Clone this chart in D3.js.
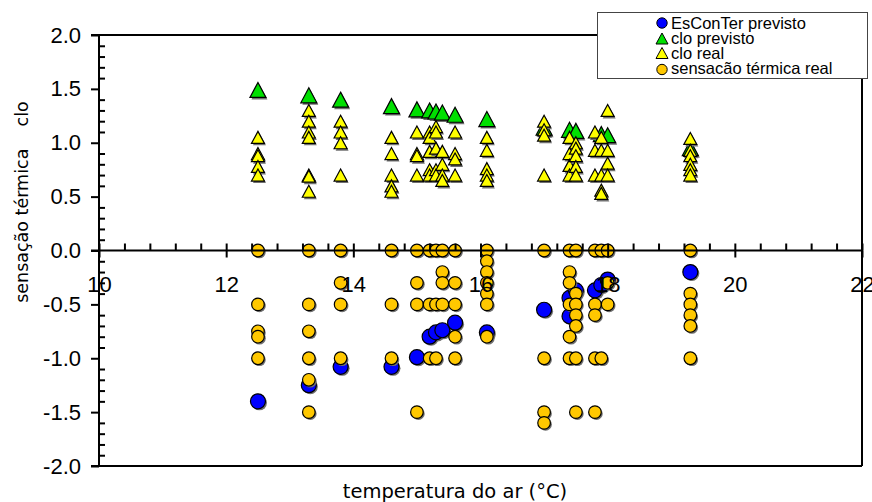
<!DOCTYPE html>
<html><head><meta charset="utf-8">
<script src="https://cdn.jsdelivr.net/npm/d3@7"></script>
<style>
html,body{margin:0;padding:0;background:#fff;}
svg{display:block;}
</style></head>
<body>
<svg id="chart" width="872" height="502"></svg>
<script>
// ---------- data ----------
const xTicks = [10, 12, 14, 16, 18, 20, 22];
const yTicks = [-2.0, -1.5, -1.0, -0.5, 0.0, 0.5, 1.0, 1.5, 2.0];

// column temperatures (°C)
const temps = [12.5, 13.3, 13.8, 14.6, 15.0, 15.2, 15.3, 15.4, 15.6, 16.1, 17.0, 17.4, 17.5, 17.8, 17.9, 18.0, 19.3];

// clo real (yellow triangles), one list per temperature column
const cloReal = [
  [1.05, 0.90, 0.88, 0.78, 0.70],
  [1.30, 1.20, 1.10, 1.05, 0.70, 0.69, 0.55],
  [1.20, 1.10, 1.00, 0.70],
  [1.05, 0.90, 0.70, 0.60, 0.55],
  [1.10, 0.90, 0.88, 0.70],
  [1.10, 1.05, 0.92, 0.75, 0.70],
  [1.15, 1.10, 0.95, 0.75, 0.70],
  [0.92, 0.80, 0.70, 0.65],
  [1.10, 0.90, 0.85, 0.70],
  [1.05, 0.93, 0.76, 0.70, 0.65],
  [1.20, 1.12, 1.07, 0.70],
  [1.05, 0.90, 0.79, 0.70],
  [1.00, 0.95, 0.88, 0.78, 0.70],
  [1.10, 0.93, 0.70],
  [1.05, 0.93, 0.70, 0.56, 0.53],
  [1.30, 0.93, 0.81, 0.70],
  [1.04, 0.93, 0.88, 0.80, 0.75, 0.70]
];

// sensação térmica real (orange circles), one list per temperature column
const sensReal = [
  [0, -0.5, -0.75, -0.8, -1.0],
  [0, -0.5, -0.75, -1.0, -1.2, -1.5],
  [0, -0.3, -0.5, -1.0],
  [0, -0.5, -1.0],
  [0, -0.3, -0.5, -1.5],
  [0, -0.5, -1.0],
  [0, -0.5, -1.0],
  [0, -0.2, -0.3, -0.5],
  [0, -0.3, -0.5, -0.8, -1.0],
  [0, -0.1, -0.2, -0.3, -0.4, -0.5, -0.8],
  [0, -1.0, -1.5, -1.6],
  [0, -0.2, -0.3, -0.5, -0.8, -1.0],
  [0, -0.4, -0.5, -0.6, -0.7, -1.0, -1.5],
  [0, -0.5, -0.6, -1.0, -1.5],
  [0, -1.0],
  [0, -0.3, -0.5],
  [0, -0.4, -0.5, -0.6, -0.7, -1.0]
];

// clo previsto (green triangles)
const cloPrevTemp  = [12.5, 13.3, 13.8, 14.6, 15.0, 15.2, 15.3, 15.4, 15.6, 16.1, 17.0, 17.4, 17.5, 17.9, 18.0, 19.3];
const cloPrevValue = [1.49, 1.44, 1.40, 1.34, 1.31, 1.30, 1.29, 1.28, 1.26, 1.22, 1.14, 1.12, 1.11, 1.08, 1.07, 0.95];

// EsConTer previsto (blue circles)
const escTemp  = [12.5, 13.3, 13.8, 14.6, 15.0, 15.2, 15.3, 15.4, 15.6, 16.1, 17.0, 17.4, 17.4, 17.5, 17.8, 17.9, 18.0, 19.3];
const escValue = [-1.40, -1.25, -1.08, -1.08, -0.99, -0.80, -0.76, -0.74, -0.67, -0.76, -0.55, -0.61, -0.44, -0.37, -0.37, -0.32, -0.27, -0.20];

const legendLabels = ["EsConTer previsto", "clo previsto", "clo real", "sensacão térmica real"];

// ---------- drawing ----------
const svg = d3.select("#chart");
const x = d3.scaleLinear().domain([10, 22]).range([99, 862]);
const y = d3.scaleLinear().domain([-2, 2]).range([466, 35]);

const C_BLUE = "#0000ff", C_GREEN = "#00e000", C_YTRI = "#ffff00", C_CIRC = "#ffc800";
const SHADOW = "#707070";

function triPath(w, h) {
  return `M0,${-h/2}L${w/2},${h/2}L${-w/2},${h/2}Z`;
}

const marks = svg.append("g");

function drawCircles(data, r, fill) {
  const g = marks.append("g");
  g.selectAll("circle.sh").data(data).join("circle")
    .attr("cx", d => x(d[0]) + 1.5).attr("cy", d => y(d[1]) + 1.5).attr("r", r)
    .attr("fill", SHADOW);
  g.selectAll("circle.m").data(data).join("circle")
    .attr("cx", d => x(d[0])).attr("cy", d => y(d[1])).attr("r", r)
    .attr("fill", fill).attr("stroke", "#000").attr("stroke-width", 1.2);
}
function drawTris(data, w, h, fill) {
  const g = marks.append("g");
  const p = triPath(w, h);
  data.forEach(d => {
    g.append("path").attr("d", p)
      .attr("transform", `translate(${x(d[0]) + 1.5},${y(d[1]) + 2})`).attr("fill", SHADOW);
    g.append("path").attr("d", p)
      .attr("transform", `translate(${x(d[0])},${y(d[1])})`)
      .attr("fill", fill).attr("stroke", "#000").attr("stroke-width", 1.2).attr("stroke-linejoin", "miter");
  });
}

const escData = escTemp.map((t, i) => [t, escValue[i]]);
const greenData = cloPrevTemp.map((t, i) => [t, cloPrevValue[i]]);
const yTriData = temps.flatMap((t, i) => cloReal[i].map(v => [t, v]));
const circData = temps.flatMap((t, i) => sensReal[i].map(v => [t, v]));

// ---------- axes & frame ----------
const axG = svg.append("g");
const left = x(10) - 8;
axG.append("line").attr("x1", left).attr("x2", x(22)).attr("y1", y(2)).attr("y2", y(2));
axG.append("line").attr("x1", x(22)).attr("x2", x(22)).attr("y1", y(2)).attr("y2", y(-2));
axG.append("line").attr("x1", left).attr("x2", x(22)).attr("y1", y(-2)).attr("y2", y(-2));
axG.append("line").attr("x1", left).attr("x2", x(22)).attr("y1", y(0)).attr("y2", y(0));
axG.append("line").attr("x1", x(10)).attr("x2", x(10)).attr("y1", y(2)).attr("y2", y(-2));
axG.selectAll("line").attr("stroke", "#000").attr("stroke-width", 2);

// y ticks
const yMajor = d3.axisLeft(y).tickValues(yTicks).tickSize(8).tickPadding(10).tickFormat(d3.format(".1f"));
const gy = svg.append("g").attr("transform", `translate(${x(10)},0)`).call(yMajor);
gy.select(".domain").remove();
gy.selectAll(".tick line").attr("stroke", "#000").attr("stroke-width", 2);
gy.selectAll(".tick text").attr("font-family", "'Liberation Sans', Arial, sans-serif").attr("font-size", 22).attr("fill", "#000")
  .text(d => d3.format(".1f")(d).replace("−", "-"));

const yMinorVals = d3.range(-20, 21).filter(i => i % 5 !== 0).map(i => i / 10);
const gym = svg.append("g").attr("transform", `translate(${x(10)},0)`)
  .call(d3.axisRight(y).tickValues(yMinorVals).tickSize(6).tickFormat(""));
gym.select(".domain").remove();
gym.selectAll(".tick line").attr("stroke", "#000").attr("stroke-width", 2);

// x ticks (crossing the zero line)
const gxb = svg.append("g").attr("transform", `translate(0,${y(0)})`)
  .call(d3.axisBottom(x).tickValues(xTicks).tickSize(7).tickFormat(""));
gxb.select(".domain").remove();
gxb.selectAll(".tick line").attr("stroke", "#000").attr("stroke-width", 2);
const xAllVals = d3.range(0, 31).map(i => 10 + i * 0.4);
const gxt = svg.append("g").attr("transform", `translate(0,${y(0)})`)
  .call(d3.axisTop(x).tickValues(xAllVals).tickSize(7).tickFormat(""));
gxt.select(".domain").remove();
gxt.selectAll(".tick line").attr("stroke", "#000").attr("stroke-width", 2);

// marks (drawn after axes so they cover the zero line)
drawCircles(escData, 7.5, C_BLUE);
drawTris(greenData, 16, 15, C_GREEN);
drawTris(yTriData, 13, 12, C_YTRI);
drawCircles(circData, 6.3, C_CIRC);

// x labels on top of marks
const gxl = svg.append("g").attr("transform", `translate(0,${y(0)})`)
  .call(d3.axisBottom(x).tickValues(xTicks).tickSize(0).tickPadding(26).tickFormat(d3.format("d")));
gxl.select(".domain").remove();
gxl.selectAll(".tick text").attr("font-family", "'Liberation Sans', Arial, sans-serif").attr("font-size", 22).attr("fill", "#000");

// axis titles
svg.append("text").attr("x", 455).attr("y", 498).attr("text-anchor", "middle")
  .attr("font-family", "'DejaVu Sans', Verdana, sans-serif").attr("font-size", 19.5).attr("fill", "#000")
  .text("temperatura do ar (°C)");
svg.append("text").attr("transform", "translate(28,202) rotate(-90)").attr("text-anchor", "middle")
  .attr("font-family", "'DejaVu Sans', Verdana, sans-serif").attr("font-size", 17.5).attr("fill", "#000")
  .attr("xml:space", "preserve").style("white-space", "pre")
  .text("sensação térmica    clo");

// legend
const lg = svg.append("g");
lg.append("rect").attr("x", 597.5).attr("y", 12.5).attr("width", 270).attr("height", 66)
  .attr("fill", "#fff").attr("stroke", "#444").attr("stroke-width", 1);
const rowsY = [23, 38.5, 53, 68];
const lmx = 662;
lg.append("circle").attr("cx", lmx).attr("cy", rowsY[0]).attr("r", 5.2).attr("fill", C_BLUE).attr("stroke", "#000").attr("stroke-width", 1);
lg.append("path").attr("d", triPath(12, 11)).attr("transform", `translate(${lmx},${rowsY[1]})`).attr("fill", C_GREEN).attr("stroke", "#000").attr("stroke-width", 1);
lg.append("path").attr("d", triPath(12, 11)).attr("transform", `translate(${lmx},${rowsY[2]})`).attr("fill", C_YTRI).attr("stroke", "#000").attr("stroke-width", 1);
lg.append("circle").attr("cx", lmx).attr("cy", rowsY[3] + 1.5).attr("r", 5.2).attr("fill", C_CIRC).attr("stroke", "#000").attr("stroke-width", 1);
lg.selectAll("text.l").data(legendLabels).join("text")
  .attr("x", 671).attr("y", (d, i) => rowsY[i] + 5.5)
  .attr("font-family", "'Liberation Sans', Arial, sans-serif").attr("font-size", 16.5).attr("fill", "#000")
  .text(d => d);
</script>
</body></html>
